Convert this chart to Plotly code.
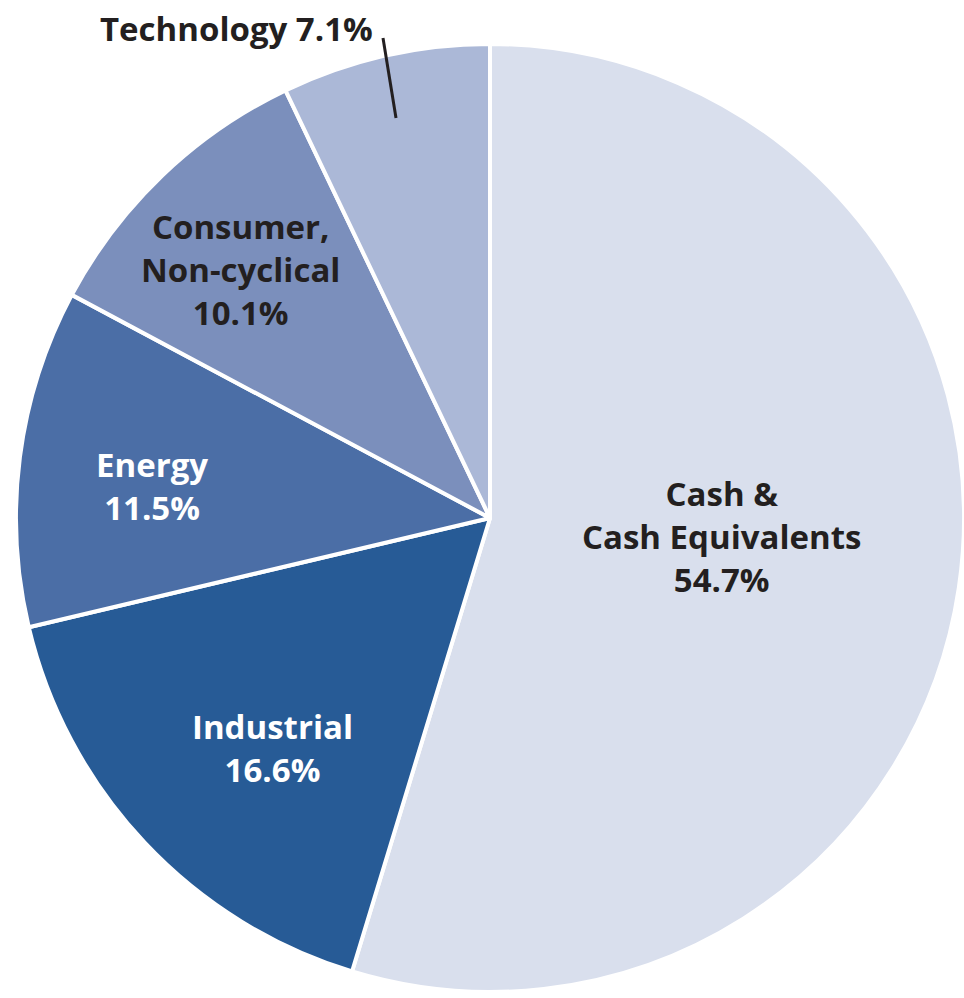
import plotly.graph_objects as go

categories = ["Cash & Cash Equivalents", "Industrial", "Energy", "Consumer, Non-cyclical", "Technology"]
values = [54.7, 16.6, 11.5, 10.1, 7.1]
colors = ["#d9dfed", "#275b96", "#4b6ea6", "#7b8fbc", "#abb8d7"]
label_texts = ["Cash &<br>Cash Equivalents<br>54.7%", "Industrial<br>16.6%", "Energy<br>11.5%",
               "Consumer,<br>Non-cyclical<br>10.1%", "Technology 7.1%"]
label_colors = ["#231f20", "#ffffff", "#ffffff", "#231f20", "#231f20"]
label_pos_px = [(721, 536), (272, 748), (152, 486), (240, 270), (236, 28)]

W, H = 964, 998
cx, cy, r = 490, 518, 474

fig = go.Figure(go.Pie(
    labels=categories,
    values=values,
    sort=False,
    direction="clockwise",
    rotation=0,
    marker=dict(colors=colors, line=dict(color="#ffffff", width=4)),
    textinfo="none",
    hoverinfo="label+percent",
    showlegend=False,
    domain=dict(x=[(cx - r) / W, (cx + r) / W], y=[1 - (cy + r) / H, 1 - (cy - r) / H]),
))

font_family = "Open Sans"
for txt, col, (px, py) in zip(label_texts, label_colors, label_pos_px):
    fig.add_annotation(
        x=px / W, y=1 - py / H, xref="paper", yref="paper",
        text=txt, showarrow=False, xanchor="center", yanchor="middle",
        align="center",
        font=dict(family=font_family, size=33, color=col, weight=700),
    )

# leader line for Technology label
fig.add_shape(type="line", xref="paper", yref="paper",
              x0=383 / W, y0=1 - 38 / H, x1=396 / W, y1=1 - 118 / H,
              line=dict(color="#231f20", width=3))

fig.update_layout(
    width=W, height=H,
    margin=dict(l=0, r=0, t=0, b=0),
    paper_bgcolor="#ffffff",
    plot_bgcolor="#ffffff",
)

fig.write_html("out.html")
